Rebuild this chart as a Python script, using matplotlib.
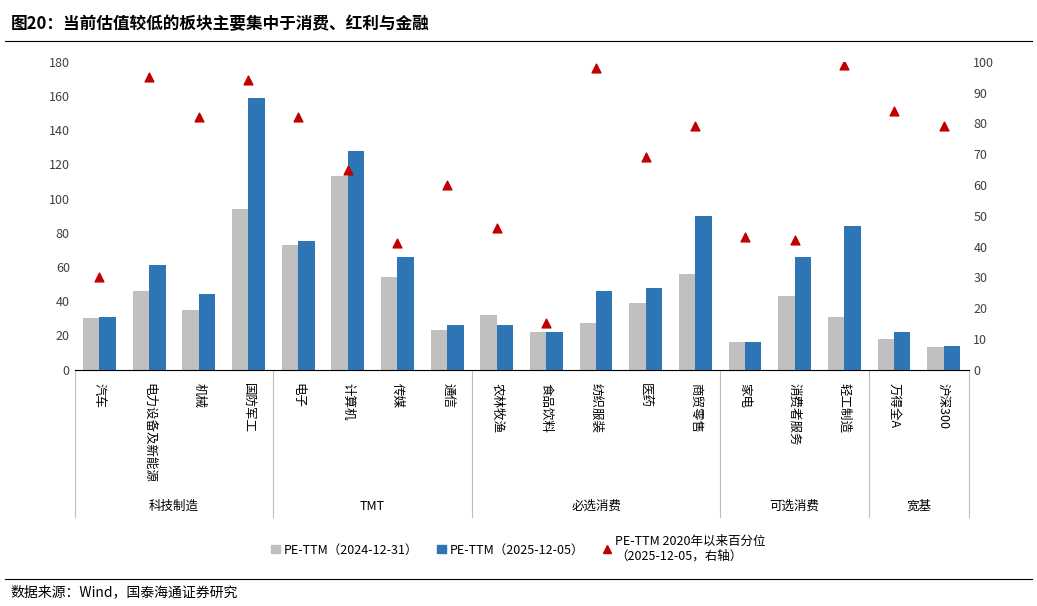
import numpy as np
from matplotlib import pyplot as plt
from matplotlib.lines import Line2D

plt.rcParams['font.family'] = ['Noto Sans CJK SC', 'DejaVu Sans']
plt.rcParams['font.size'] = 9

categories = ['汽车', '电力设备及新能源', '机械', '国防军工', '电子', '计算机', '传媒', '通信',
              '农林牧渔', '食品饮料', '纺织服装', '医药', '商贸零售', '家电', '消费者服务',
              '轻工制造', '万得全A', '沪深300']
pe_2024 = [30, 46, 35, 94, 73, 113, 54, 23, 32, 22, 27, 39, 56, 16, 43, 31, 18, 13]
pe_2025 = [31, 61, 44, 159, 75, 128, 66, 26, 26, 22, 46, 48, 90, 16, 66, 84, 22, 14]
pct = [30, 95, 82, 94, 82, 65, 41, 60, 46, 15, 98, 69, 79, 43, 42, 99, 84, 79]
groups = ['科技制造', 'TMT', '必选消费', '可选消费', '宽基']
group_sizes = [4, 4, 5, 3, 2]

fig = plt.figure(figsize=(10.37, 6.06), dpi=100)
ax = fig.add_axes([0.072, 0.39, 0.862, 0.508])
ax2 = ax.twinx()

x = np.arange(len(categories))
w = 0.33
ax.bar(x - w / 2, pe_2024, w, color='#bfbfbf', label='PE-TTM（2024-12-31）')
ax.bar(x + w / 2, pe_2025, w, color='#2e75b6', label='PE-TTM（2025-12-05）')
ax2.scatter(x, pct, marker='^', color='#c00000', s=40, zorder=5)

ax.set_xlim(-0.5, len(categories) - 0.5)
ax.set_ylim(0, 180)
ax.set_yticks(range(0, 181, 20))
ax2.set_ylim(0, 100)
ax2.set_yticks(range(0, 101, 10))
for a in (ax, ax2):
    for s in ['top', 'left', 'right']:
        a.spines[s].set_visible(False)
    a.tick_params(axis='y', length=0, colors='#404040')
ax.spines['bottom'].set_color('#bfbfbf')
ax.set_xticks(x)
ax.set_xticklabels([])
ax.tick_params(axis='x', length=0)

for i, c in enumerate(categories):
    ax.text(i, -8, c, rotation=-90, ha='center', va='top', fontsize=9,
            transform=ax.transData, clip_on=False)

# group separators and labels
bounds = np.concatenate([[0], np.cumsum(group_sizes)]) - 0.5
for b in bounds:
    ax.plot([b, b], [0, -86], color='#bfbfbf', lw=0.8, clip_on=False)
for g, (a0, a1) in zip(groups, zip(bounds[:-1], bounds[1:])):
    ax.text((a0 + a1) / 2, -80, g, ha='center', va='center', fontsize=9, clip_on=False)

handles = [
    plt.Rectangle((0, 0), 1, 1, color='#bfbfbf'),
    plt.Rectangle((0, 0), 1, 1, color='#2e75b6'),
    Line2D([], [], marker='^', color='#c00000', ls='', markersize=6),
]
labels = ['PE-TTM（2024-12-31）', 'PE-TTM（2025-12-05）', 'PE-TTM 2020年以来百分位\n（2025-12-05，右轴）']
fig.legend(handles, labels, loc='center', bbox_to_anchor=(0.5, 0.095), ncol=3, frameon=False,
           fontsize=9, handlelength=0.7, handletextpad=0.3, columnspacing=1.5)

fig.text(0.01, 0.96, '图20：当前估值较低的板块主要集中于消费、红利与金融', fontsize=12,
         fontweight='bold', va='center')
fig.add_artist(Line2D([0.005, 0.995], [0.933, 0.933], color='black', lw=0.8))
fig.add_artist(Line2D([0.005, 0.995], [0.045, 0.045], color='black', lw=0.8))
fig.text(0.01, 0.022, '数据来源：Wind，国泰海通证券研究', fontsize=10, va='center')

fig.savefig('out.png', dpi=100)
